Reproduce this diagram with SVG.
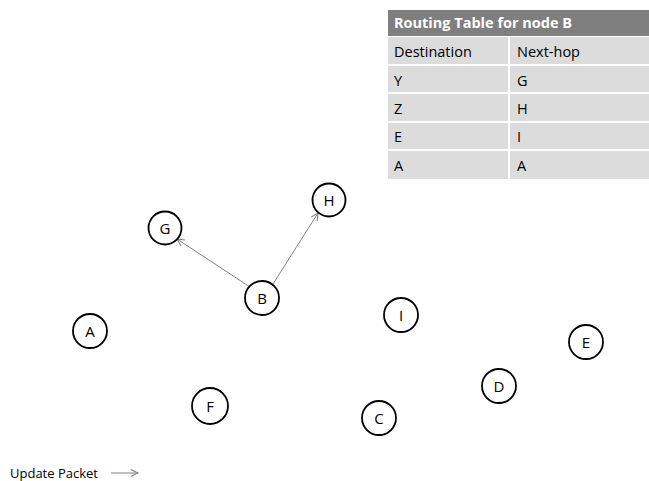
<svg xmlns="http://www.w3.org/2000/svg" width="649" height="481" viewBox="0 0 649 481">
  <style>
    .node circle { fill: #ffffff; stroke: #000000; stroke-width: 1.8; }
    .node text { font-family: "Open Sans", "Liberation Sans", sans-serif; font-size: 15px; fill: #000000; text-anchor: middle; dominant-baseline: central; }
    .edge { stroke: #808080; stroke-width: 1; fill: none; marker-end: url(#arrow); }
    .cell { fill: #dcdcdc; }
    .tbl { font-family: "Open Sans", "Liberation Sans", sans-serif; font-size: 14.5px; fill: #000000; }
    .hdr { font-family: "Open Sans", "Liberation Sans", sans-serif; font-size: 14.5px; font-weight: bold; fill: #ffffff; }
    .legend { font-family: "Open Sans", "Liberation Sans", sans-serif; font-size: 13px; fill: #000000; }
  </style>
  <defs>
    <marker id="arrow" viewBox="0 0 10 10" refX="9" refY="5" markerWidth="9" markerHeight="9" markerUnits="userSpaceOnUse" orient="auto">
      <path d="M1,1 L9,5 L1,9" fill="none" stroke="#808080" stroke-width="1.2"/>
    </marker>
  </defs>
  <rect width="649" height="481" fill="#ffffff"/>

  <!-- Routing table -->
  <g id="routing-table">
    <rect x="388" y="10" width="261" height="26" fill="#7f7f7f"/>
    <text class="hdr" x="394" y="28">Routing Table for node B</text>
    <rect class="cell" x="388" y="37" width="120" height="27"/>
    <rect class="cell" x="510" y="37" width="139" height="27"/>
    <rect class="cell" x="388" y="66" width="120" height="26"/>
    <rect class="cell" x="510" y="66" width="139" height="26"/>
    <rect class="cell" x="388" y="94" width="120" height="27"/>
    <rect class="cell" x="510" y="94" width="139" height="27"/>
    <rect class="cell" x="388" y="123" width="120" height="26"/>
    <rect class="cell" x="510" y="123" width="139" height="26"/>
    <rect class="cell" x="388" y="151" width="120" height="28"/>
    <rect class="cell" x="510" y="151" width="139" height="28"/>
    <text class="tbl" x="394" y="57">Destination</text>
    <text class="tbl" x="517" y="57">Next-hop</text>
    <text class="tbl" x="394" y="86">Y</text>
    <text class="tbl" x="517" y="86">G</text>
    <text class="tbl" x="394" y="114">Z</text>
    <text class="tbl" x="517" y="114">H</text>
    <text class="tbl" x="394" y="142">E</text>
    <text class="tbl" x="517" y="142">I</text>
    <text class="tbl" x="394" y="171">A</text>
    <text class="tbl" x="517" y="171">A</text>
  </g>

  <!-- Connectors -->
  <g id="connectors">
    <line class="edge" x1="250" y1="287" x2="177" y2="239"/>
    <line class="edge" x1="273" y1="284" x2="318" y2="213"/>
  </g>

  <!-- Nodes -->
  <g id="node-G" class="node"><circle cx="165" cy="228" r="16.5"/><text x="165" y="228">G</text></g>
  <g id="node-H" class="node"><circle cx="329" cy="200" r="16.5"/><text x="329" y="200">H</text></g>
  <g id="node-B" class="node"><circle cx="262" cy="298" r="17"/><text x="262" y="298">B</text></g>
  <g id="node-A" class="node"><circle cx="90" cy="331" r="17"/><text x="90" y="331">A</text></g>
  <g id="node-I" class="node"><circle cx="401" cy="315" r="17"/><text x="401" y="315">I</text></g>
  <g id="node-E" class="node"><circle cx="586" cy="342" r="17"/><text x="586" y="342">E</text></g>
  <g id="node-D" class="node"><circle cx="499" cy="386" r="17"/><text x="499" y="386">D</text></g>
  <g id="node-C" class="node"><circle cx="379" cy="418" r="17"/><text x="379" y="418">C</text></g>
  <g id="node-F" class="node"><circle cx="210" cy="406" r="18"/><text x="210" y="406">F</text></g>

  <!-- Legend -->
  <g id="legend">
    <text class="legend" x="10" y="478">Update Packet</text>
    <line class="edge" x1="111" y1="473" x2="138" y2="473"/>
  </g>
</svg>
